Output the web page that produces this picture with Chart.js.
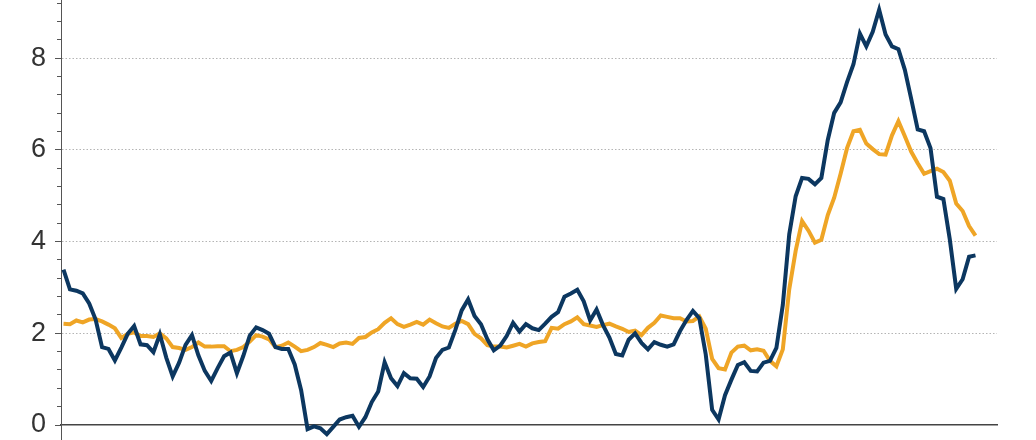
<!DOCTYPE html>
<html>
<head>
<meta charset="utf-8">
<script src="https://cdn.jsdelivr.net/npm/chart.js@4.4.0/dist/chart.umd.min.js"></script>
<style>
html,body{margin:0;padding:0;background:#fff;overflow:hidden;width:1036px;height:440px;}
#wrap{position:absolute;left:0;top:-30px;width:1036px;height:520px;}
</style>
</head>
<body>
<div id="wrap"><canvas id="c"></canvas></div>
<script>
// Monthly categories: Nov 2011 .. Sep 2023
const startYear = 2011, startMonth = 11, monthCount = 143;
const months = [];
for (let i = 0; i < monthCount; i++) {
  const m = (startMonth - 1 + i) % 12 + 1;
  const y = startYear + Math.floor((startMonth - 1 + i) / 12);
  months.push(y + '-' + String(m).padStart(2, '0'));
}

// Headline inflation, % y/y (navy)
const headline = [
  3.39, 2.96,
  2.93, 2.87, 2.65, 2.30, 1.70, 1.66, 1.41, 1.69, 1.99, 2.16, 1.76, 1.74,
  1.59, 1.98, 1.47, 1.06, 1.36, 1.75, 1.96, 1.52, 1.18, 0.96, 1.24, 1.50,
  1.58, 1.13, 1.51, 1.95, 2.13, 2.07, 1.99, 1.70, 1.66, 1.66, 1.32, 0.76,
  -0.09, -0.03, -0.07, -0.20, -0.04, 0.12, 0.17, 0.20, -0.04, 0.17, 0.50, 0.73,
  1.37, 1.02, 0.85, 1.13, 1.02, 1.01, 0.83, 1.06, 1.46, 1.64, 1.69, 2.07,
  2.50, 2.74, 2.38, 2.20, 1.87, 1.63, 1.73, 1.94, 2.23, 2.04, 2.20, 2.11,
  2.07, 2.21, 2.36, 2.46, 2.80, 2.87, 2.95, 2.70, 2.28, 2.52, 2.18, 1.91,
  1.55, 1.52, 1.86, 2.00, 1.79, 1.65, 1.81, 1.75, 1.71, 1.76, 2.05, 2.29,
  2.49, 2.33, 1.54, 0.33, 0.12, 0.65, 0.99, 1.31, 1.37, 1.18, 1.17, 1.36,
  1.40, 1.68, 2.62, 4.16, 4.99, 5.39, 5.37, 5.25, 5.39, 6.22, 6.81, 7.04,
  7.48, 7.87, 8.54, 8.26, 8.58, 9.06, 8.52, 8.26, 8.20, 7.75, 7.11, 6.45,
  6.41, 6.04, 4.98, 4.93, 4.05, 2.97, 3.18, 3.67, 3.70
];

// Core inflation, % y/y (orange)
const core = [
  2.21, 2.20,
  2.28, 2.24, 2.30, 2.31, 2.26, 2.19, 2.11, 1.90, 1.99, 2.02, 1.94, 1.94,
  1.92, 2.00, 1.89, 1.70, 1.68, 1.64, 1.70, 1.80, 1.71, 1.71, 1.72, 1.72,
  1.61, 1.64, 1.70, 1.82, 1.96, 1.93, 1.87, 1.70, 1.73, 1.80, 1.71, 1.61,
  1.64, 1.70, 1.79, 1.75, 1.70, 1.78, 1.80, 1.77, 1.90, 1.92, 2.02, 2.09,
  2.23, 2.33, 2.20, 2.14, 2.19, 2.25, 2.19, 2.30, 2.22, 2.15, 2.12, 2.21,
  2.27, 2.20, 1.99, 1.89, 1.74, 1.71, 1.71, 1.69, 1.73, 1.77, 1.71, 1.78,
  1.81, 1.83, 2.12, 2.10, 2.20, 2.26, 2.35, 2.20, 2.17, 2.14, 2.18, 2.21,
  2.15, 2.10, 2.03, 2.06, 1.96, 2.12, 2.23, 2.39, 2.36, 2.33, 2.33, 2.26,
  2.27, 2.37, 2.10, 1.44, 1.24, 1.21, 1.58, 1.71, 1.73, 1.63, 1.65, 1.62,
  1.40, 1.28, 1.65, 2.96, 3.80, 4.45, 4.24, 3.98, 4.04, 4.58, 4.96, 5.48,
  6.04, 6.41, 6.44, 6.14, 6.02, 5.91, 5.90, 6.32, 6.63, 6.30, 5.96, 5.71,
  5.48, 5.54, 5.59, 5.52, 5.33, 4.83, 4.67, 4.34, 4.13
];

// Axis ticks
const majorTicks = [0, 2, 4, 6, 8];
const majorTickLabels = ['0', '2', '4', '6', '8'];
const minorTicks = [0, 0.4, 0.8, 1.2, 1.6, 2, 2.4, 2.8, 3.2, 3.6, 4, 4.4, 4.8, 5.2, 5.6, 6,
                    6.4, 6.8, 7.2, 7.6, 8, 8.4, 8.8, 9.2, 9.6];

const X_MIN = -0.39, X_MAX = 145.35;
const WRAP_TOP = 30;            // canvas is shifted up by this many px
const ZERO_PX = 425, EIGHT_PX = 58.33; // wanted on-screen positions of 0 and 8

const toPts = arr => arr.map((v, i) => ({x: i, y: v}));
const clear = 'rgba(0,0,0,0)';

const chart = new Chart(document.getElementById('c'), {
  type: 'line',
  data: {
    labels: months,
    datasets: [
      {label: 'Headline', data: toPts(headline), borderColor: '#0c3760', backgroundColor: '#0c3760',
       borderWidth: 4, pointRadius: 0, tension: 0, order: 0, xAxisID: 'x', yAxisID: 'y'},
      {label: 'Core', data: toPts(core), borderColor: '#efa526', backgroundColor: '#efa526',
       borderWidth: 4, pointRadius: 0, tension: 0, order: 1, xAxisID: 'x', yAxisID: 'y'}
    ]
  },
  options: {
    responsive: true,
    maintainAspectRatio: false,
    animation: false,
    layout: {padding: {left: 0, right: 39, top: 0, bottom: 0}},
    plugins: {legend: {display: false}, tooltip: {enabled: false}},
    scales: {
      x: {
        type: 'linear', min: X_MIN, max: X_MAX, position: {y: 0},
        ticks: {display: false}, grid: {display: false},
        border: {display: true, color: '#444', width: 1.5}
      },
      y: {
        type: 'linear', position: 'left', min: -1.2, max: 9.7,
        afterBuildTicks: s => { s.ticks = [s.min, ...majorTicks, s.max].map(v => ({value: v})); },
        afterFit: s => { s.width = 61; },
        ticks: {
          padding: 9, color: '#333',
          font: {family: '"Liberation Sans", Arial, sans-serif', size: 27},
          callback: v => { const k = majorTicks.indexOf(v); return k >= 0 ? majorTickLabels[k] : null; }
        },
        grid: {
          color: c => (c.tick && c.tick.value > 0 && c.tick.value <= 8) ? '#b4b4b4' : clear,
          lineWidth: 1, tickLength: 6, tickWidth: 1, tickBorderDash: [],
          tickColor: c => (c.tick && majorTicks.includes(c.tick.value)) ? '#555' : clear
        },
        border: {display: true, color: '#555', width: 1, dash: [1.5, 2]}
      },
      y2: {
        axis: 'y', type: 'linear', position: {x: X_MIN}, min: -1.2, max: 9.7,
        afterBuildTicks: s => { s.ticks = minorTicks.map(v => ({value: v})); },
        ticks: {display: false},
        grid: {drawOnChartArea: false, tickLength: 4, color: '#555', lineWidth: 1, tickBorderDash: []},
        border: {display: false}
      }
    }
  }
});

// Fit the value range so 0 and 8 land where they sit in the reference.
(function fitRange() {
  const ca = chart.chartArea;
  const areaTop = ca.top - WRAP_TOP, areaBottom = ca.bottom - WRAP_TOP;
  const ppu = (ZERO_PX - EIGHT_PX) / 8;
  const yMin = -(areaBottom - ZERO_PX) / ppu, yMax = (ZERO_PX - areaTop) / ppu;
  chart.options.scales.y.min = chart.options.scales.y2.min = yMin;
  chart.options.scales.y.max = chart.options.scales.y2.max = yMax;
  chart.update('none');
})();
</script>
</body>
</html>
